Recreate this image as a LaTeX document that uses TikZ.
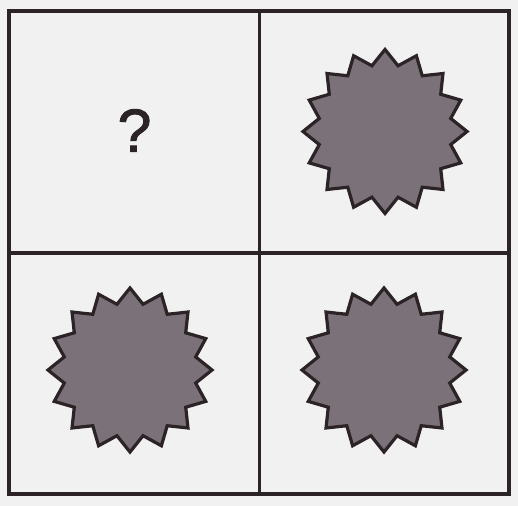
\documentclass[tikz,border=0pt]{standalone}
\usepackage{fontspec}
\setmainfont{Liberation Sans}
\newfontfamily\qfont[FakeBold=1.6]{Liberation Sans}
\definecolor{paper}{HTML}{F1F1F1}
\definecolor{ink}{HTML}{2B2326}
\definecolor{burstfill}{HTML}{7A7278}
\tikzset{
  frame/.style={draw=ink, line width=4bp},
  divider/.style={draw=ink, line width=3.5bp},
  burst/.style={draw=ink, fill=burstfill, line width=3.2bp, line join=miter},
  qmark/.style={font=\qfont\fontsize{61}{61}\selectfont, text=ink, inner sep=0pt}
}
\begin{document}
\begin{tikzpicture}[x=1bp, y=-1bp]
  \fill[paper] (0,0) rectangle (518,506);
  \useasboundingbox (0,0) rectangle (518,506);
  % grid
  \draw[divider] (259.5,11.5) -- (259.5,494);
  \draw[divider] (9,253) -- (509,253);
  \draw[frame] (9,11.5) rectangle (509,494);
  % question mark
  \node[qmark] (q) at (134.5,130.5) {?};
  % bursts
  \foreach \cx/\cy in {385/131.5, 130/370, 384/370} {
    \begin{scope}[shift={(\cx,\cy)}]
      \draw[burst] (90:82) \foreach \i in {0,...,15} {
        -- ({101.25+22.5*\i}:67) -- ({112.5+22.5*\i}:82) } -- cycle;
    \end{scope}
  }
\end{tikzpicture}
\end{document}
